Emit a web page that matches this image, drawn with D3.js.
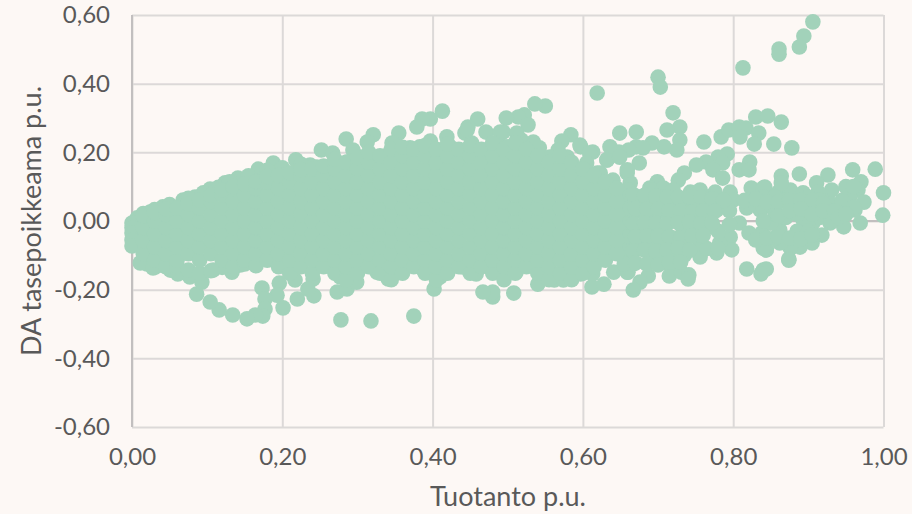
<!DOCTYPE html>
<html><head><meta charset="utf-8">
<script src="https://cdnjs.cloudflare.com/ajax/libs/d3/7.8.5/d3.min.js"></script>
<style>
html,body{margin:0;padding:0;background:#fdf8f5;}
svg{display:block;}
text{font-family:Lato,"Open Sans",sans-serif;fill:#595959;}
</style></head><body><div id="c"></div>
<script>
const xTicks=[0,.2,.4,.6,.8,1];
const yTicks=[-.6,-.4,-.2,0,.2,.4,.6];
const xTitle="Tuotanto p.u.";
const yTitle="DA tasepoikkeama p.u.";

// individually readable points: [x values], [y values]
const upperX=[.906,.894,.888,.861,.861,.813,.700,.703,.619,.720,.729,.712,.649,.671,.761,.729,.725,.708,.692,.671,.680,.661,.648,.636,.613,.597,.584,.572,.567,.550,.536,.522,.514,.498,.527,.494,.488,.460,.447,.443,.471,.534,.542,.518,.446,.490,.512,.596,.632,.619];
const upperY=[.580,.539,.507,.501,.486,.446,.419,.390,.373,.315,.274,.265,.256,.259,.230,.236,.207,.216,.227,.216,.213,.207,.201,.216,.201,.216,.251,.233,.207,.335,.341,.309,.303,.300,.280,.259,.227,.297,.274,.256,.259,.230,.213,.236,.265,.259,.256,.221,.178,.140];

const rightX=[.784,.794,.808,.817,.830,.846,.864,.834,.828,.809,.854,.878,.792,.780,.764,.751,.735,.727,.786,.773,.786,.822,.808,.821,.888,.864,.926,.959,.989,.970,1.0,.999,.911,.931,.966,.955,.974,.949,.962,.969,.947,.929,.918,.905,.889,.876,.874,.840,.844,.862,.849,.862,.838,.842,.860,.876,.893,.876,.893,.906,.902,.919,.925,.913,.836,.845,.893,.824,.840,.818,.840,.808,.821,.844,.850,.864,.857,.864,.840];
const rightY=[.245,.265,.274,.271,.303,.306,.288,.256,.224,.245,.224,.213,.195,.186,.172,.163,.140,.119,.169,.149,.125,.172,.149,.149,.137,.131,.134,.149,.151,.114,.082,.017,.111,.090,.090,.070,.055,.038,.032,-.006,-.017,-.006,-.041,-.064,-.076,-.079,-.111,-.143,-.084,-.064,-.006,-.026,-.035,.099,.084,.090,.082,.032,.017,-.006,.041,.061,.026,.084,.032,-.003,.003,.096,.096,.038,.041,-.006,-.035,-.084,-.006,-.061,.070,.111,-.079];

const midX=[.699,.689,.707,.743,.756,.776,.796,.800,.749,.778,.760,.703,.676,.659,.675,.663,.725,.712,.685,.663,.733,.752,.773,.796,.798,.782,.778,.756,.756,.732,.707,.680,.659,.659,.696,.716,.715,.731,.741,.687,.676,.667,.818,.844,.837,.874,.740];
const midY=[.114,.096,.096,.084,.090,.084,.084,.061,.041,.032,.067,.061,.055,.140,.169,.111,.012,.032,.012,.012,-.020,-.020,-.017,-.047,-.084,-.064,-.093,-.105,-.064,-.090,-.076,-.064,-.093,-.149,-.108,-.128,-.160,-.149,-.157,-.160,-.178,-.201,-.140,-.140,-.154,-.114,-.169];

const lowerX=[.612,.628,.597,.641,.660,.540,.562,.574,.508,.480,.480,.467,.511,.484,.458,.440,.548,.613,.582,.667,.414,.375,.318,.278,.201,.220,.242,.196,.173,.193,.177,.177,.174,.164,.153,.134,.116,.104,.086,.093,.217,.241,.234,.273,.286,.299,.277,.341,.387,.326,.402,.410,.133,.108,.061,.031,.020,.051,.077,.144,.201,.366,.267];
const lowerY=[-.192,-.184,-.154,-.149,-.149,-.184,-.172,-.172,-.210,-.221,-.207,-.207,-.149,-.143,-.154,-.134,-.143,-.154,-.134,-.125,-.151,-.277,-.291,-.288,-.253,-.227,-.218,-.181,-.195,-.216,-.227,-.256,-.277,-.274,-.285,-.274,-.259,-.236,-.213,-.178,-.172,-.169,-.198,-.207,-.198,-.178,-.163,-.169,-.140,-.149,-.198,-.163,-.143,-.143,-.154,-.134,-.125,-.143,-.163,-.128,-.128,-.125,-.134];

const ridgeX=[.413,.397,.386,.379,.419,.397,.355,.346,.321,.313,.285,.252,.218,.188,.168,.246,.237,.141,.124,.104,.084,.068,.041,.024,.007,0,0,0,0,0];
const ridgeY=[.320,.297,.297,.274,.245,.233,.256,.227,.251,.230,.239,.207,.178,.169,.151,.157,.163,.125,.111,.093,.070,.061,.041,.026,.009,-.006,-.020,-.035,-.055,-.073];

// further points along the cloud's edges
const edgeX=[.267,.286,.303,.326,.343,.353,.361,.294,.370,.383,.401,.423,.452,.476,.499,.534,.556,.579,.609,.632,.649,.659,.640,.623,.605,.011,.028,.133,.161,.197,.208,.180,.015,.03,.05,.075,.095,.115,.13,.155,.18,.20,.225];
const edgeY=[.198,.172,.186,.184,.198,.169,.207,.207,.213,.216,.157,.216,.227,.201,.216,.221,.186,.186,.198,.178,.186,.149,.119,.140,.169,-.122,-.137,-.149,-.105,-.128,-.119,-.093,.022,.033,.048,.066,.082,.098,.114,.132,.148,.155,.165];

// filled patches on the right of the cloud
const patchX=[.66,.66,.66,.66,.66,.675,.675,.675,.675,.69,.69,.69,.69,.69,.705,.705,.705,.705,.72,.72,.72,.72,.735,.735,.735,.735,.75,.75,.75,.765,.765,.765,.78,.78,.78,.795,.795,.84,.84,.855,.855,.855,.87,.87,.885,.885,.885,.90,.90,.90,.915,.915,.93,.93,.945,.95,.96,.96];
const patchY=[.09,.05,-.02,-.06,-.10,.07,.03,-.03,-.08,.09,.05,-.02,-.06,-.09,.07,.03,-.03,-.10,.09,.05,-.05,-.09,.06,.02,-.06,-.10,.05,.01,-.04,.07,.03,-.08,.05,-.03,-.08,.03,-.01,.07,.00,.07,.03,-.05,.06,.01,.05,.02,-.03,.07,.03,-.03,.06,.01,.05,.00,.06,.10,.04,.10];

const fillX=[.652,.667,.682,.697,.712,.727,.742,.757,.772,.787,.655,.67,.685,.70,.715,.73,.745,.76,.775,.652,.667,.682,.697,.712,.727,.742,.757,.772,.655,.67,.685,.70,.715,.73,.745,.76,.652,.667,.682,.697,.712,.727,.742,.655,.67,.685,.70,.715,.73,.815,.83,.845,.86,.875,.89,.905,.92,.86,.875,.89,.905,.92,.935,.94,.95,.83,.845,.86,.875,.89,.905];
const fillY=[.075,.077,.075,.072,.07,.07,.07,.07,.065,.06,.035,.036,.034,.034,.03,.03,.025,.03,.028,-.005,-.008,-.006,-.006,-.008,-.005,-.002,-.008,-.006,-.045,-.046,-.044,-.044,-.045,-.05,-.043,-.042,-.085,-.087,-.085,-.088,-.085,-.078,-.085,-.125,-.122,-.125,-.128,-.12,-.12,.06,.065,.055,.055,.06,.06,.06,.05,.015,.03,.035,.02,.03,.03,.01,.02,-.055,-.05,-.045,-.05,-.052,-.04];

// dense body of the cloud, listed column by column
const bodyX=[.015,.03,.045,.06,.075,.09,.105,.12,.135,.15,.165,.18,.195,.21,.225,.24,.255,.27,.285,.30,.315,.33,.345,.36,.375,.39,.405,.42,.435,.45,.465,.48,.495,.51,.525,.54,.555,.57,.585,.60,.615,.63,.645];
const bodyY=[
[-.095,-.057,-.019,.015],
[-.114,-.076,-.038,0,.025],
[-.133,-.095,-.057,-.019,.019,.035],
[-.132,-.114,-.076,-.038,0,.038],
[-.143,-.095,-.057,-.019,.019,.05],
[-.152,-.114,-.076,-.038,0,.038,.062],
[-.145,-.095,-.057,-.019,.019,.057,.075],
[-.135,-.114,-.076,-.038,0,.038,.076,.09],
[-.133,-.095,-.057,-.019,.019,.057,.095,.10],
[-.125,-.114,-.076,-.038,0,.038,.076,.108],
[-.13,-.095,-.057,-.019,.019,.057,.095,.115],
[-.114,-.076,-.038,0,.038,.076,.114,.13],
[-.133,-.095,-.057,-.019,.019,.057,.095,.133],
[-.152,-.114,-.076,-.038,0,.038,.076,.114,.14],
[-.133,-.095,-.057,-.019,.019,.057,.095,.133,.15],
[-.152,-.114,-.076,-.038,0,.038,.076,.114,.152],
[-.133,-.095,-.057,-.019,.019,.057,.095,.133,.16],
[-.152,-.114,-.076,-.038,0,.038,.076,.114,.152,.18],
[-.171,-.133,-.095,-.057,-.019,.019,.057,.095,.133,.171],
[-.152,-.114,-.076,-.038,0,.038,.076,.114,.152,.185],
[-.133,-.095,-.057,-.019,.019,.057,.095,.133,.171,.2],
[-.152,-.114,-.076,-.038,0,.038,.076,.114,.152,.19],
[-.171,-.133,-.095,-.057,-.019,.019,.057,.095,.133,.171,.209],
[-.152,-.114,-.076,-.038,0,.038,.076,.114,.152,.19,.215],
[-.133,-.095,-.057,-.019,.019,.057,.095,.133,.171,.209],
[-.152,-.114,-.076,-.038,0,.038,.076,.114,.152,.19,.22],
[-.171,-.133,-.095,-.057,-.019,.019,.057,.095,.133,.171,.209],
[-.152,-.114,-.076,-.038,0,.038,.076,.114,.152,.19,.225],
[-.133,-.095,-.057,-.019,.019,.057,.095,.133,.171,.209],
[-.152,-.114,-.076,-.038,0,.038,.076,.114,.152,.19,.22],
[-.133,-.095,-.057,-.019,.019,.057,.095,.133,.171,.209],
[-.152,-.114,-.076,-.038,0,.038,.076,.114,.152,.19,.228],
[-.171,-.133,-.095,-.057,-.019,.019,.057,.095,.133,.171,.209],
[-.152,-.114,-.076,-.038,0,.038,.076,.114,.152,.19,.228],
[-.133,-.095,-.057,-.019,.019,.057,.095,.133,.171,.209],
[-.152,-.114,-.076,-.038,0,.038,.076,.114,.152,.19],
[-.171,-.133,-.095,-.057,-.019,.019,.057,.095,.133,.171],
[-.152,-.114,-.076,-.038,0,.038,.076,.114,.152,.19],
[-.171,-.133,-.095,-.057,-.019,.019,.057,.095,.133,.171],
[-.152,-.114,-.076,-.038,0,.038,.076,.114,.152],
[-.133,-.095,-.057,-.019,.019,.057,.095,.133],
[-.114,-.076,-.038,0,.038,.076,.114],
[-.095,-.057,-.019,.019,.057,.095]
];

const W=912,H=514;
const xScale=d3.scaleLinear().domain([0,1]).range([132,883.5]);
const yScale=d3.scaleLinear().domain([-.6,.6]).range([427,15]);
const fmt=d=>d3.format(".2f")(Math.abs(d)).replace(".",",").replace(/^/,d<0?"-":"");

const svg=d3.select("#c").append("svg").attr("width",W).attr("height",H);
const grid="#dcd9d8",axisCol="#c2bfbf";

const gx=svg.append("g").attr("transform",`translate(0,${yScale(-.6)})`)
 .call(d3.axisBottom(xScale).tickValues(xTicks).tickFormat(fmt).tickSize(-(yScale(-.6)-yScale(.6))).tickPadding(21));
const gy=svg.append("g").attr("transform",`translate(${xScale(0)},0)`)
 .call(d3.axisLeft(yScale).tickValues(yTicks).tickFormat(fmt).tickSize(-(xScale(1)-xScale(0))).tickPadding(22));
[gx,gy].forEach(g=>{
  g.select(".domain").remove();
  g.selectAll("line").attr("stroke",grid).attr("stroke-width",2);
  g.selectAll("text").attr("font-size",24).attr("fill","#595959");
});
svg.append("line").attr("x1",xScale(0)).attr("x2",xScale(1)).attr("y1",yScale(0)).attr("y2",yScale(0)).attr("stroke",axisCol).attr("stroke-width",2);
svg.append("line").attr("x1",xScale(0)).attr("x2",xScale(0)).attr("y1",yScale(.6)).attr("y2",yScale(-.6)).attr("stroke",axisCol).attr("stroke-width",2);

const pts=[];
[[upperX,upperY],[rightX,rightY],[midX,midY],[lowerX,lowerY],[ridgeX,ridgeY],[edgeX,edgeY],[patchX,patchY],[fillX,fillY]].forEach(([a,b])=>a.forEach((x,i)=>pts.push([x,b[i]])));
bodyX.forEach((x,i)=>bodyY[i].forEach(y=>pts.push([x,y])));

svg.append("g").selectAll("circle").data(pts).join("circle")
 .attr("cx",d=>xScale(d[0])).attr("cy",d=>yScale(d[1])).attr("r",7.8).attr("fill","#a2d2ba");

svg.append("text").attr("x",508).attr("y",506).attr("text-anchor","middle").attr("font-size",27).text(xTitle);
svg.append("text").attr("transform","translate(41,221) rotate(-90)").attr("text-anchor","middle").attr("font-size",27).text(yTitle);
</script></body></html>
